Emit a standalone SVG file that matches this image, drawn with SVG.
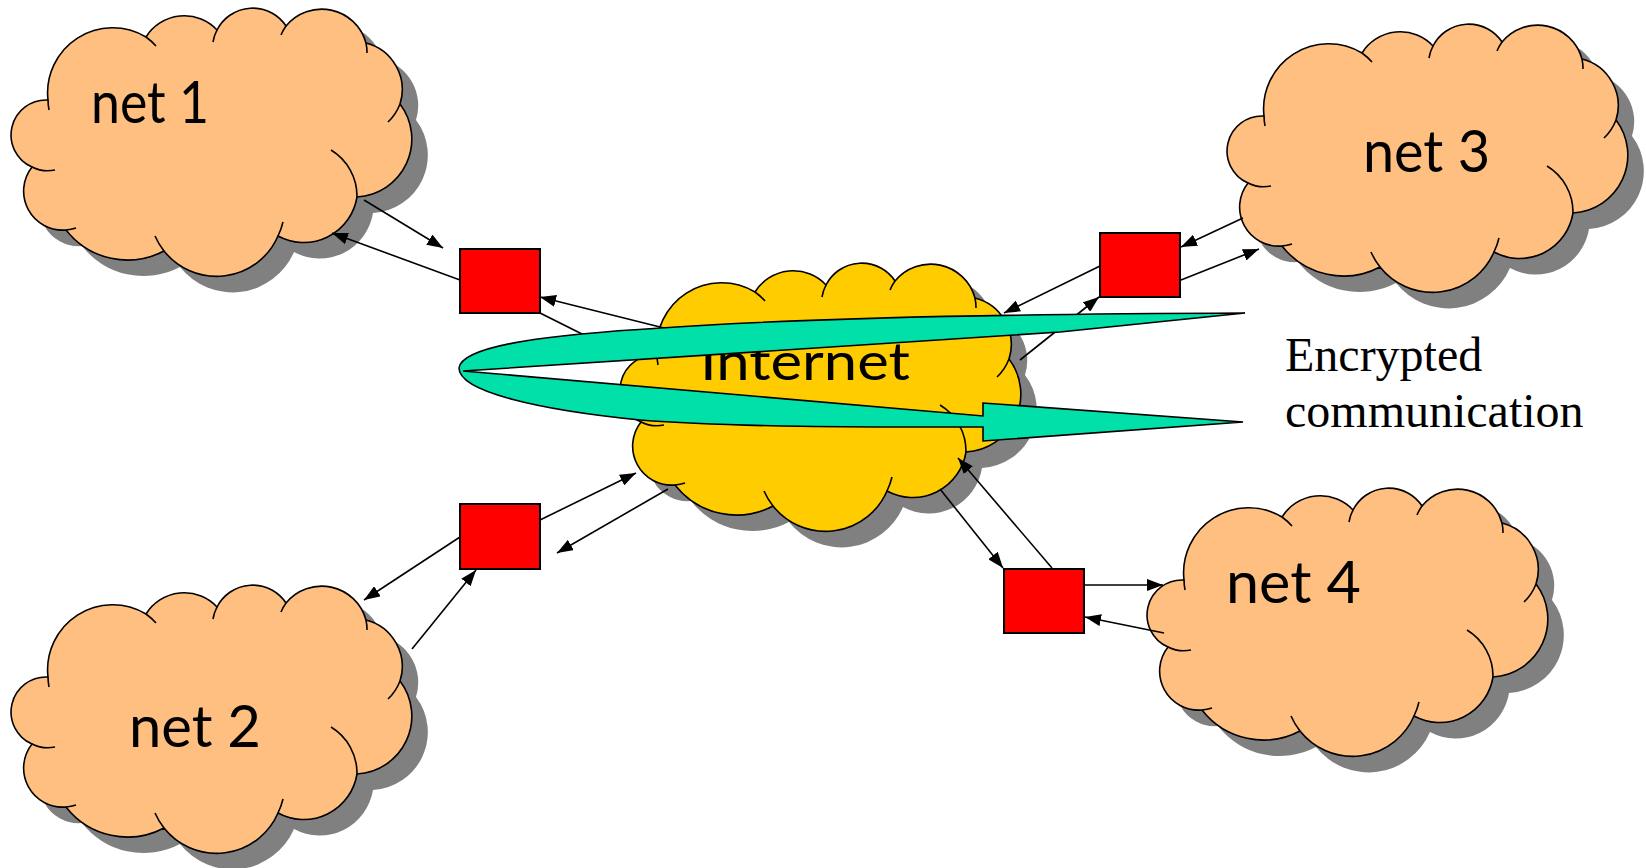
<svg xmlns="http://www.w3.org/2000/svg" width="1646" height="868" viewBox="0 0 1646 868">
<style>
.shadow{fill:#808080;stroke:none}
.orange{fill:#FFBF80;stroke:#000;stroke-width:1.6}
.yellow{fill:#FFCC00;stroke:#000;stroke-width:1.6}
.tail{fill:none;stroke:#000;stroke-width:1.6}
.lbl{font-family:Lato,'Open Sans','DejaVu Sans',sans-serif;font-weight:400;font-size:58px;fill:#000}
.sq{fill:#FF0000;stroke:#000;stroke-width:2}
.con line{stroke:#000;stroke-width:1.6;marker-end:url(#ah)}
.serif{font-family:'Liberation Serif','Times New Roman',serif;font-size:48px;fill:#000}
</style>
<defs>
<path id="cloudShape" d="M48,100 A35,35 0 0 0 32,167 A39,39 0 0 0 66,230 A78,78 0 0 0 164,251 A67,67 0 0 0 278,236 A54,54 0 0 0 357,197 A58,58 0 0 0 400,104 A48,48 0 0 0 366,43 A46,46 0 0 0 286,26 A40,40 0 0 0 217,30 A45,45 0 0 0 146,37 A65,65 0 0 0 48,100 Z"/>
<path id="cloudTails" d="M48,100 A65,65 0 0 0 49,110 M32,167 A35,35 0 0 0 55,170 M66,230 A39,39 0 0 0 76,228 M164,251 A67,67 0 0 1 155,236 M278,236 A67,67 0 0 0 283,222 M357,197 A54,54 0 0 0 331,150 M400,104 A48,48 0 0 1 388,122 M366,43 A46,46 0 0 1 367,53 M286,26 A46,46 0 0 0 281,35 M217,30 A40,40 0 0 0 213,42 M146,37 A65,65 0 0 1 156,46"/>
<marker id="ah" viewBox="0 0 16 12" refX="16" refY="6" markerWidth="16" markerHeight="12" markerUnits="userSpaceOnUse" orient="auto">
<path d="M0,0 L16,6 L0,12 Z" fill="#000"/>
</marker>
</defs>
<rect width="1646" height="868" fill="#fff"/>

<g id="net1">
<use href="#cloudShape" class="shadow" x="16" y="16"/>
<use href="#cloudShape" class="orange"/>
<use href="#cloudTails" class="tail"/>
<text class="lbl" x="91" y="123" textLength="118" lengthAdjust="spacingAndGlyphs">net 1</text>
</g>

<g id="net2">
<g transform="translate(0,577)">
<use href="#cloudShape" class="shadow" x="16" y="16"/>
<use href="#cloudShape" class="orange"/>
<use href="#cloudTails" class="tail"/>
</g>
<text class="lbl" x="129" y="747" textLength="132" lengthAdjust="spacingAndGlyphs">net 2</text>
</g>

<g id="net3">
<g transform="translate(1216,16)">
<use href="#cloudShape" class="shadow" x="16" y="16"/>
<use href="#cloudShape" class="orange"/>
<use href="#cloudTails" class="tail"/>
</g>
<text class="lbl" x="1363" y="172" textLength="127" lengthAdjust="spacingAndGlyphs">net 3</text>
</g>

<g id="net4">
<g transform="translate(1136,480)">
<use href="#cloudShape" class="shadow" x="16" y="16"/>
<use href="#cloudShape" class="orange"/>
<use href="#cloudTails" class="tail"/>
</g>
<text class="lbl" x="1226" y="603" textLength="135" lengthAdjust="spacingAndGlyphs">net 4</text>
</g>

<g id="internet">
<g transform="translate(609,255)">
<use href="#cloudShape" class="shadow" x="16" y="16"/>
<use href="#cloudShape" class="yellow"/>
<use href="#cloudTails" class="tail"/>
</g>
<text class="lbl" x="700" y="380" style="font-size:52px" textLength="210" lengthAdjust="spacingAndGlyphs">Internet</text>
</g>

<g id="connectors" class="con">
<line x1="364" y1="200" x2="443" y2="248"/>
<line x1="460" y1="280" x2="332" y2="233"/>
<line x1="672" y1="330" x2="540" y2="297"/>
<line x1="540" y1="313" x2="618" y2="352"/>
<line x1="540" y1="520" x2="636" y2="473"/>
<line x1="668" y1="489" x2="557" y2="553"/>
<line x1="460" y1="537" x2="364" y2="600"/>
<line x1="412" y1="649" x2="476" y2="570"/>
<line x1="1100" y1="266" x2="1004" y2="313"/>
<line x1="1020" y1="360" x2="1099" y2="297"/>
<line x1="1243" y1="218" x2="1181" y2="247"/>
<line x1="1181" y1="280" x2="1259" y2="249"/>
<line x1="940" y1="489" x2="1003" y2="568"/>
<line x1="1052" y1="568" x2="958" y2="458"/>
<line x1="1084" y1="585" x2="1163" y2="585"/>
<line x1="1164" y1="633" x2="1085" y2="617"/>
</g>

<g id="gw1"><rect class="sq" x="460" y="249" width="80" height="64"/></g>
<g id="gw2"><rect class="sq" x="460" y="504" width="80" height="65"/></g>
<g id="gw3"><rect class="sq" x="1100" y="233" width="80" height="64"/></g>
<g id="gw4"><rect class="sq" x="1004" y="569" width="80" height="64"/></g>

<g id="tunnel">
<path d="M1245,313 C1000,314 800,318 661,328 C560,334 462,344 459,368 C459,392 540,410 640,420 C740,428 900,427 983,427 L983,441 L1243,422 L983,403 L983,416 L463,371 L1060,332 Z" fill="#00E0A8" stroke="#000" stroke-width="1.6" stroke-linejoin="miter"/>
</g>

<g id="label">
<text class="serif" x="1285" y="371">Encrypted</text>
<text class="serif" x="1285" y="427">communication</text>
</g>
</svg>
